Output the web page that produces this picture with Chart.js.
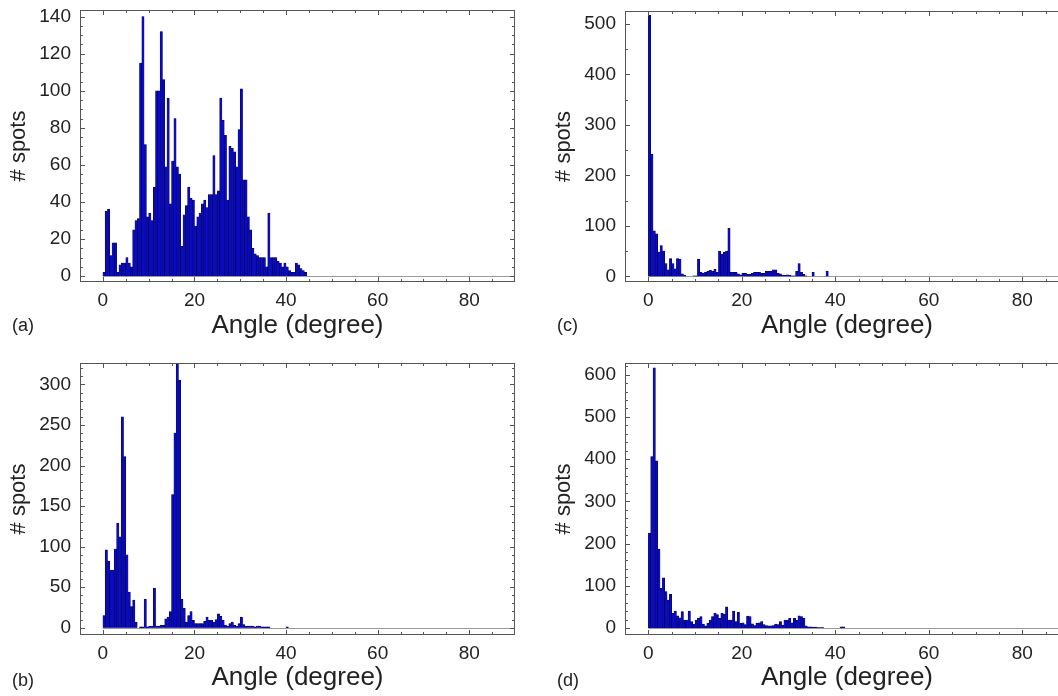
<!DOCTYPE html>
<html>
<head>
<meta charset="utf-8">
<script src="https://cdn.jsdelivr.net/npm/chart.js@4.4.1/dist/chart.umd.min.js"></script>
<style>
  html, body { margin: 0; padding: 0; background: #fff; overflow: hidden; }
  body { width: 1058px; height: 696px; position: relative; font-family: "Liberation Sans", Arial, sans-serif; }
  canvas { position: absolute; }
  .tag { position: absolute; font-size: 18px; color: #222; line-height: 20px; }
</style>
</head>
<body>
<canvas id="chartA" width="530" height="345" style="left:0;top:0"></canvas>
<canvas id="chartC" width="545" height="345" style="left:545px;top:0"></canvas>
<canvas id="chartB" width="530" height="344" style="left:0;top:352px"></canvas>
<canvas id="chartD" width="545" height="344" style="left:545px;top:352px"></canvas>
<div class="tag" style="left:12px;top:315px">(a)</div>
<div class="tag" style="left:557px;top:315px">(c)</div>
<div class="tag" style="left:12px;top:670px">(b)</div>
<div class="tag" style="left:557px;top:670px">(d)</div>
<script>
// histogram bins are 0.5 degree wide, starting at 0
const binWidth = 0.5
const angleTicks = [0, 20, 40, 60, 80]

const spotsA = [2, 35, 36, 11, 18, 18, 2, 6, 7, 7, 10, 7, 5, 25, 30, 31, 115, 140, 71, 32,
    34, 30, 48, 100, 100, 132, 106, 59, 96, 39, 62, 85, 59, 55, 16, 33, 38, 48, 42, 41,
    27, 32, 34, 39, 41, 37, 44, 44, 65, 44, 46, 96, 84, 76, 41, 70, 69, 67, 59, 79,
    101, 52, 52, 32, 25, 15, 12, 11, 10, 10, 10, 5, 34, 10, 10, 10, 8, 7, 5, 7,
    5, 3, 2, 2, 7, 6, 4, 3, 2]
const ticksA = [0, 20, 40, 60, 80, 100, 120, 140]

const spotsB = [15, 96, 82, 71, 71, 97, 129, 112, 260, 211, 90, 44, 26, 34, 7, 0, 1, 1, 35, 1,
    2, 2, 49, 2, 2, 3, 3, 11, 13, 20, 164, 240, 325, 305, 35, 24, 7, 15, 20, 9,
    5, 5, 5, 5, 8, 13, 9, 9, 7, 10, 17, 14, 9, 3, 2, 5, 7, 3, 2, 5,
    13, 4, 2, 2, 2, 2, 1, 2, 2, 1, 1, 1, 1, 0, 0, 0, 0, 0, 0, 0, 1]
const ticksB = [0, 50, 100, 150, 200, 250, 300]

const spotsC = [517, 242, 90, 84, 48, 61, 50, 25, 13, 35, 25, 15, 35, 34, 5, 2, 0, 0, 0, 1,
    1, 34, 8, 6, 8, 10, 12, 10, 14, 8, 50, 44, 48, 50, 95, 8, 8, 8, 5, 3,
    6, 6, 4, 4, 6, 8, 8, 8, 6, 6, 10, 10, 10, 13, 13, 6, 5, 2, 2, 3,
    2, 1, 1, 10, 25, 8, 4, 1, 0, 0, 8, 0, 0, 0, 0, 0, 10]
const ticksC = [0, 100, 200, 300, 400, 500]

const spotsD = [225, 406, 616, 396, 187, 94, 119, 86, 66, 80, 35, 40, 29, 24, 39, 19, 19, 40, 15, 9,
    19, 23, 27, 9, 5, 11, 19, 27, 35, 32, 23, 35, 33, 50, 19, 19, 40, 15, 37, 11,
    12, 8, 28, 27, 10, 6, 11, 12, 15, 8, 6, 5, 5, 6, 9, 8, 15, 7, 19, 19,
    23, 12, 23, 18, 29, 27, 23, 5, 3, 3, 2, 2, 1, 1, 1, 0, 0, 0, 0, 0,
    0, 0, 3, 3]
const ticksD = [0, 100, 200, 300, 400, 500, 600]

const barFill = 'rgb(10, 10, 195)'
const barEdge = 'rgb(0, 0, 70)'
const inkColor = '#222'

// box round the axes with inward ticks, and the grey line of the empty bins
const framePlugin = {
    id: 'frame',
    beforeDatasetsDraw(chart) {
        const { ctx, scales: { x, y } } = chart
        const py = Math.round(y.getPixelForValue(0)) + 0.5
        ctx.save()
        ctx.strokeStyle = '#9a9a9a'
        ctx.lineWidth = 1
        ctx.beginPath()
        ctx.moveTo(x.getPixelForValue(0), py)
        ctx.lineTo(x.getPixelForValue(90), py)
        ctx.stroke()
        ctx.restore()
    },
    afterDraw(chart, args, opts) {
        const { ctx, chartArea: a, scales: { x, y } } = chart
        ctx.save()
        ctx.strokeStyle = '#555'
        ctx.lineWidth = 1
        ctx.strokeRect(Math.round(a.left) + 0.5, Math.round(a.top) + 0.5,
            Math.round(a.right - a.left) - 1, Math.round(a.bottom - a.top) - 1)
        ctx.beginPath()
        for (let v = 0; v < x.max; v += 5) {
            const px = Math.round(x.getPixelForValue(v)) + 0.5
            const len = v % 20 === 0 ? 5 : 3
            ctx.moveTo(px, a.bottom); ctx.lineTo(px, a.bottom - len)
            ctx.moveTo(px, a.top); ctx.lineTo(px, a.top + len)
        }
        for (let v = 0; v < y.max; v += opts.yMinor) {
            const py = Math.round(y.getPixelForValue(v)) + 0.5
            const len = v % opts.yMajor === 0 ? 5 : 3
            ctx.moveTo(a.left, py); ctx.lineTo(a.left + len, py)
            ctx.moveTo(a.right, py); ctx.lineTo(a.right - len, py)
        }
        ctx.stroke()
        ctx.restore()
    }
}

function histChart(id, spots, yTicks, yMin, yMax, yMinor, area) {
    const canvas = document.getElementById(id)
    const bins = spots.map((v, i) => ({ x: (i + 0.5) * binWidth, y: v }))
    return new Chart(canvas, {
        type: 'bar',
        data: {
            datasets: [{
                data: bins,
                backgroundColor: barFill,
                borderColor: barEdge,
                borderWidth: 0.5,
                barPercentage: 1,
                categoryPercentage: 1
            }]
        },
        options: {
            responsive: false,
            animation: false,
            layout: { padding: { left: 0, top: area.top, right: canvas.width - area.right, bottom: 0 } },
            plugins: {
                legend: { display: false },
                tooltip: { enabled: false },
                frame: { yMinor: yMinor, yMajor: yTicks[1] - yTicks[0] }
            },
            scales: {
                x: {
                    type: 'linear',
                    offset: false,
                    min: -5,
                    max: 90,
                    grid: { display: false, drawTicks: false },
                    border: { display: false },
                    afterBuildTicks: s => { s.ticks = angleTicks.map(v => ({ value: v })) },
                    afterFit: s => {
                        s.height = canvas.height - area.bottom
                        s.paddingLeft = 0
                        s.paddingRight = 0
                    },
                    ticks: { autoSkip: false, maxRotation: 0, padding: 7, color: inkColor,
                        font: { family: 'Liberation Sans', size: 19 } },
                    title: { display: true, text: 'Angle (degree)', color: inkColor,
                        padding: { top: 0, bottom: area.titleGap },
                        font: { family: 'Liberation Sans', size: 26 } }
                },
                y: {
                    min: yMin,
                    max: yMax,
                    grid: { display: false, drawTicks: false },
                    border: { display: false },
                    afterBuildTicks: s => { s.ticks = yTicks.map(v => ({ value: v })) },
                    afterFit: s => {
                        s.width = area.left
                        s.paddingTop = 0
                        s.paddingBottom = 0
                    },
                    ticks: { padding: 9, color: inkColor, font: { family: 'Liberation Sans', size: 19 } },
                    title: { display: true, text: '# spots', color: inkColor,
                        padding: { top: 6, bottom: 0 },
                        font: { family: 'Liberation Sans', size: 22 } }
                }
            }
        },
        plugins: [framePlugin]
    })
}

histChart('chartA', spotsA, ticksA, -3.2, 143.6, 5, { left: 80, top: 10, right: 515, bottom: 282, titleGap: 4 })
histChart('chartC', spotsC, ticksC, -11.3, 525.8, 50, { left: 80, top: 11, right: 524, bottom: 282, titleGap: 4 })
histChart('chartB', spotsB, ticksB, -9, 326.4, 10, { left: 80, top: 11, right: 515, bottom: 283, titleGap: 3 })
histChart('chartD', spotsD, ticksD, -16.6, 627.7, 20, { left: 80, top: 11, right: 524, bottom: 283, titleGap: 3 })
</script>
</body>
</html>
